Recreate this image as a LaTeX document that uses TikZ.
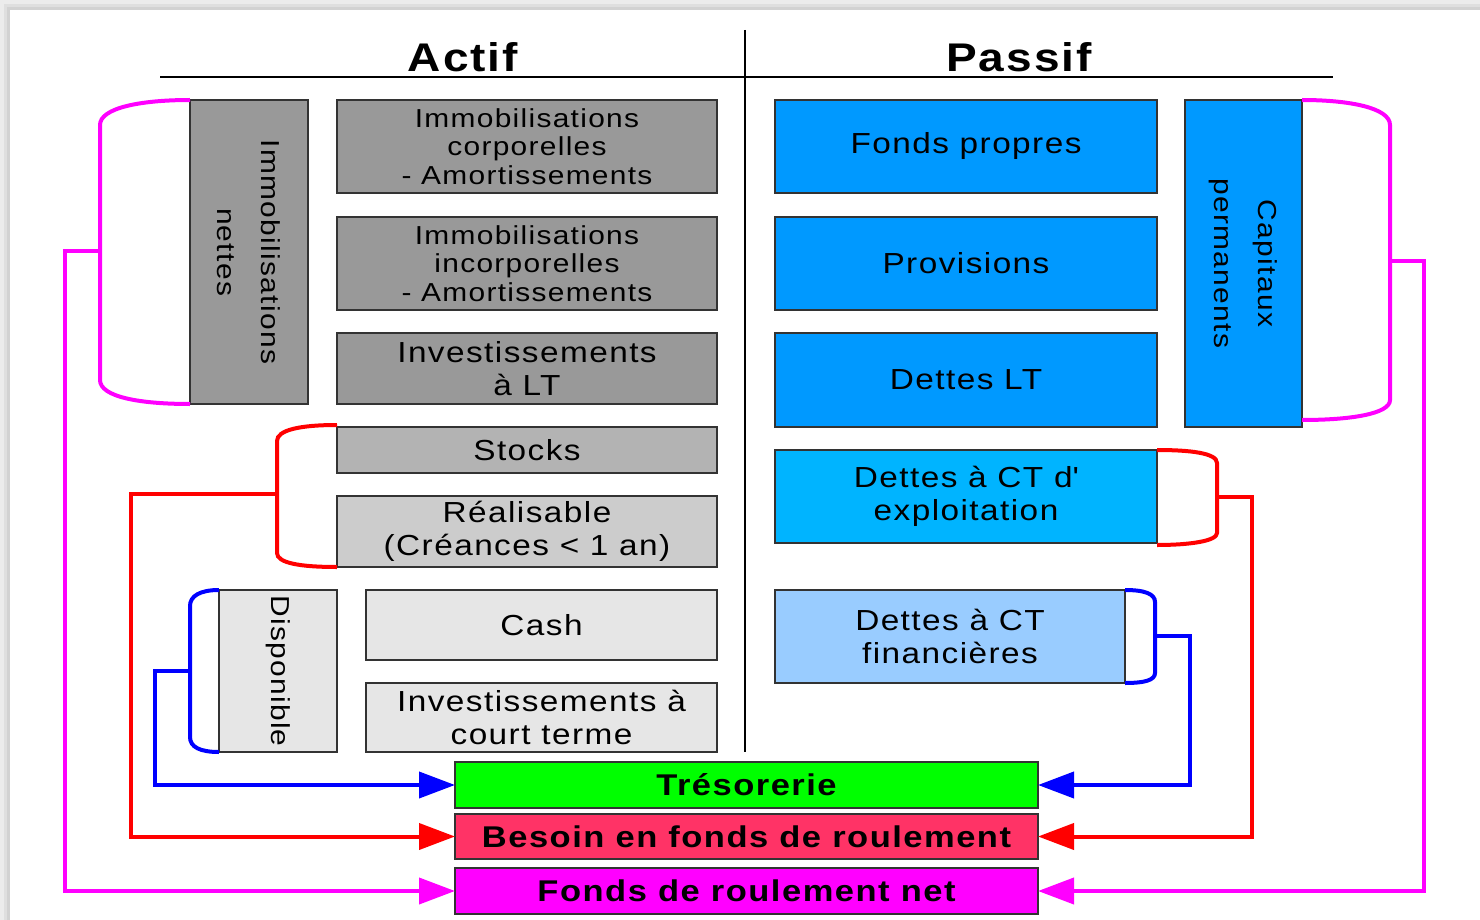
\documentclass[tikz,border=0pt]{standalone}
\usepackage{fontspec}
\setmainfont{Liberation Sans}[FakeStretch=1.15, LetterSpace=5]
\usetikzlibrary{arrows.meta,calc}

\definecolor{immoGray}{RGB}{153,153,153}
\definecolor{stockGray}{RGB}{179,179,179}
\definecolor{realGray}{RGB}{204,204,204}
\definecolor{dispoGray}{RGB}{230,230,230}
\definecolor{passBlue}{RGB}{0,153,255}
\definecolor{expBlue}{RGB}{0,180,255}
\definecolor{finBlue}{RGB}{153,204,255}
\definecolor{tresoGreen}{RGB}{0,255,0}
\definecolor{bfrRed}{RGB}{255,51,102}
\definecolor{cMag}{RGB}{255,0,255}
\definecolor{cRed}{RGB}{255,0,0}
\definecolor{cBlu}{RGB}{0,0,255}

\begin{document}
\begin{tikzpicture}[x=1pt, y=-1pt,
  box/.style={draw=black!80, line width=1.5pt, inner sep=2pt, outer sep=0pt,
    align=center, anchor=north west, font=\fontsize{29}{33}\selectfont},
  smallbox/.style={box, font=\fontsize{26}{28.5}\selectfont},
  vtxt/.style={rotate=-90, align=center, font=\fontsize{26}{44}\selectfont},
  bar/.style={box, font=\bfseries\fontsize{30}{34}\selectfont},
  ttl/.style={font=\bfseries\fontsize{40}{44}\selectfont},
  brace/.style={line width=4pt},
  lnk/.style={line width=4pt, -{Triangle[length=36pt,width=26pt]}}]

% page and its shadow
\useasboundingbox (0,0) rectangle (1480,920);
\fill[gray!15] (0,0) rectangle (1480,920);
\fill[gray!25] (4,4) rectangle (1480,920);
\fill[gray!35] (7,7) rectangle (1480,920);
\fill[white] (10,10) rectangle (1480,920);

% =================== headings ===================
\node[ttl] (actif) at (463,57) {Actif};
\node[ttl] (passif) at (1019,57) {Passif};
\draw[line width=1.5pt] (160,77) -- (1333,77);
\draw[line width=1.5pt] (745,30) -- (745,752);

% =================== Actif ===================
\node[box, fill=immoGray, minimum width=118, minimum height=304,
      label={[vtxt]center:Immobilisations\\nettes}] (immo) at (190,100) {};
\node[smallbox, fill=immoGray, minimum width=380, minimum height=93] (corp) at (337,100)
      {Immobilisations\\corporelles\\- Amortissements};
\node[smallbox, fill=immoGray, minimum width=380, minimum height=93] (incorp) at (337,217)
      {Immobilisations\\incorporelles\\- Amortissements};
\node[box, fill=immoGray, minimum width=380, minimum height=71] (invlt) at (337,333)
      {Investissements\\à LT};
\node[box, fill=stockGray, minimum width=380, minimum height=46] (stocks) at (337,427)
      {Stocks};
\node[box, fill=realGray, minimum width=380, minimum height=71] (real) at (337,496)
      {Réalisable\\(Créances < 1 an)};
\node[box, fill=dispoGray, minimum width=118, minimum height=162,
      label={[vtxt]center:Disponible}] (dispo) at (219,590) {};
\node[box, fill=dispoGray, minimum width=351, minimum height=70] (cash) at (366,590)
      {Cash};
\node[box, fill=dispoGray, minimum width=351, minimum height=69] (invct) at (366,683)
      {Investissements à\\court terme};

% =================== Passif ===================
\node[box, fill=passBlue, minimum width=382, minimum height=93] (fp) at (775,100)
      {Fonds propres};
\node[box, fill=passBlue, minimum width=382, minimum height=93] (prov) at (775,217)
      {Provisions};
\node[box, fill=passBlue, minimum width=382, minimum height=94] (dlt) at (775,333)
      {Dettes LT};
\node[box, fill=passBlue, minimum width=117, minimum height=327,
      label={[vtxt]center:Capitaux\\permanents}] (capp) at (1185,100) {};
\node[box, fill=expBlue, minimum width=382, minimum height=93] (dexp) at (775,450)
      {Dettes à CT d\textquotesingle\\exploitation};
\node[box, fill=finBlue, minimum width=350, minimum height=93] (dfin) at (775,590)
      {Dettes à CT\\financières};

% =================== results ===================
\node[bar, fill=tresoGreen, minimum width=583, minimum height=46] (treso) at (455,762)
      {Trésorerie};
\node[bar, fill=bfrRed, minimum width=583, minimum height=45] (bfr) at (455,814)
      {Besoin en fonds de roulement};
\node[bar, fill=cMag, minimum width=583, minimum height=46] (frn) at (455,868)
      {Fonds de roulement net};

% =================== braces ===================
\draw[brace, cMag] (immo.north west) .. controls (140,100) and (100,108) .. (100,125)
  -- (100,380) .. controls (100,397) and (140,404) .. (immo.south west);
\draw[brace, cRed] ($(stocks.north west)+(0,-2)$) .. controls (300,425) and (277,430) .. (277,441)
  -- (277,553) .. controls (277,563) and (300,567) .. (real.south west);
\draw[brace, cBlu] (dispo.north west) .. controls (200,590) and (190,596) .. (190,606)
  -- (190,737) .. controls (190,747) and (200,752) .. (dispo.south west);

\draw[brace, cMag] (capp.north east) .. controls (1350,100) and (1390,108) .. (1390,125)
  -- (1390,400) .. controls (1390,414) and (1350,420) .. ($(capp.south east)+(0,-7)$);
\draw[brace, cRed] (dexp.north east) .. controls (1190,450) and (1217,453) .. (1217,463)
  -- (1217,533) .. controls (1217,541) and (1190,545) .. ($(dexp.south east)+(0,2)$);
\draw[brace, cBlu] (dfin.north east) .. controls (1145,590) and (1155,594) .. (1155,602)
  -- (1155,673) .. controls (1155,680) and (1145,683) .. (dfin.south east);

\coordinate (immoK) at (100,251);
\coordinate (circK) at (277,494);
\coordinate (dispoK) at (190,671);
\coordinate (cappK) at (1390,261);
\coordinate (dexpK) at (1217,497);
\coordinate (dfinK) at (1155,636);

% =================== links ===================
\draw[lnk, cMag] (immoK) -- ++(-35,0) |- (frn.west);
\draw[lnk, cRed] (circK) -- ++(-146,0) |- (bfr.west);
\draw[lnk, cBlu] (dispoK) -- ++(-35,0) |- (treso.west);
\draw[lnk, cMag] (cappK) -- ++(34,0) |- (frn.east);
\draw[lnk, cRed] (dexpK) -- ++(35,0) |- (bfr.east);
\draw[lnk, cBlu] (dfinK) -- ++(35,0) |- (treso.east);
\end{tikzpicture}
\end{document}
